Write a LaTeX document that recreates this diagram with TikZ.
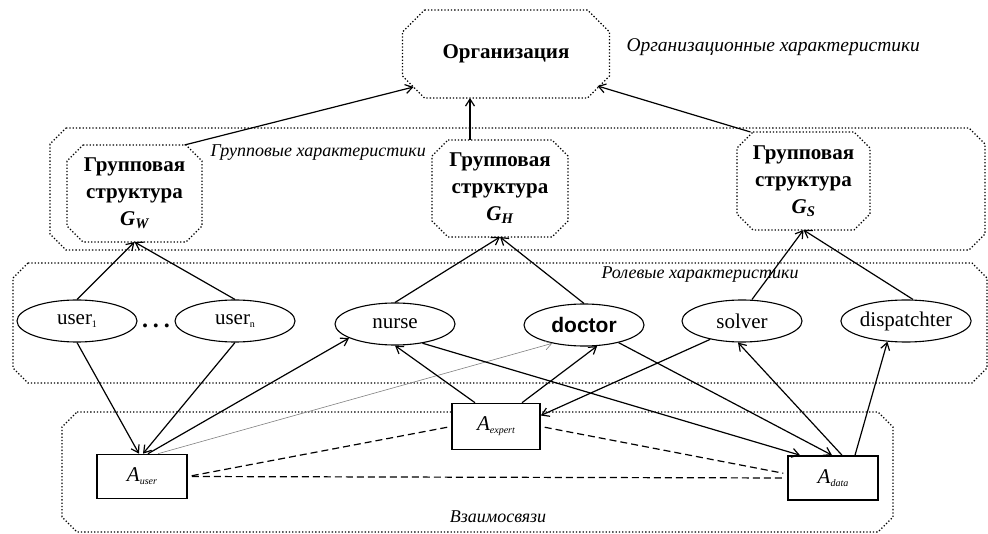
\documentclass[tikz,border=0pt]{standalone}
\usepackage{fontspec}
\setmainfont{Liberation Serif}
\newfontfamily\arialfont{Liberation Sans}
\usetikzlibrary{arrows.meta,positioning,shapes.geometric}

\newcommand{\lowsub}[1]{\raisebox{-3pt}{\fontsize{10}{10}\selectfont #1}}
% dotted outline with cut corners round a node
\newcommand{\chamfer}[2]{%
	\draw[frame] ([xshift=#2]#1.north west) -- ([xshift=-#2]#1.north east)
		-- ([yshift=-#2]#1.north east) -- ([yshift=#2]#1.south east)
		-- ([xshift=-#2]#1.south east) -- ([xshift=#2]#1.south west)
		-- ([yshift=#2]#1.south west) -- ([yshift=-#2]#1.north west) -- cycle;}

\begin{document}
\begin{tikzpicture}[
	x=1pt, y=-1pt,
	>={Straight Barb[length=7pt,width=9pt]},
	frame/.style = {dotted, line width=1.3pt},
	box/.style = {rectangle, inner sep=0pt, outer sep=0pt},
	group/.style = {box, align=center, font=\fontsize{21}{27}\selectfont\bfseries},
	role/.style = {draw, ellipse, line width=1.1pt, fill=white, minimum width=120pt, minimum height=42pt, inner sep=0pt, font=\fontsize{21}{24}\selectfont},
	agent/.style = {draw, rectangle, line width=1.6pt, fill=white, minimum width=90pt, minimum height=44pt, font=\fontsize{21}{24}\selectfont\itshape},
	note/.style = {font=\fontsize{18}{20}\selectfont\itshape},
	link/.style = {->, line width=1.2pt},
	weak/.style = {->, line width=0.6pt, gray},
	rel/.style = {line width=1.2pt, dash pattern=on 7pt off 4pt, shorten <=4pt, shorten >=4pt}
]
\useasboundingbox (0,0) rectangle (988,534);

% bands
\node[box, minimum width=935pt, minimum height=122pt] (groupband) at (517.5,189) {};
\node[box, minimum width=974pt, minimum height=120pt] (roleband) at (500,323) {};
\node[box, minimum width=831pt, minimum height=120pt] (linkband) at (477.5,472) {};
\chamfer{groupband}{16pt}
\chamfer{roleband}{15pt}
\chamfer{linkband}{15pt}
\node[note, anchor=west] (grouplabel) at (207,153) {Групповые характеристики};
\node[note] (rolelabel) at (700,275) {Ролевые характеристики};
\node[note] (linklabel) at (498,517) {Взаимосвязи};

% organisation
\node[box, minimum width=207pt, minimum height=88pt, font=\fontsize{21}{24}\selectfont\bfseries] (org) at (506,54) {Организация};
\chamfer{org}{22pt}
\node[note, anchor=west, font=\fontsize{19.5}{20}\selectfont\itshape] (orglabel) at (623,47) {Организационные характеристики};

% groups
\node[group, minimum width=135pt, minimum height=97pt] (gw) at (134.5,193.5) {Групповая\\структура\\\textit{G\textsubscript{W}}};
\node[group, minimum width=136pt, minimum height=97pt] (gh) at (500,188.5) {Групповая\\структура\\\textit{G\textsubscript{H}}};
\node[group, minimum width=133pt, minimum height=98pt] (gs) at (803.5,181) {Групповая\\структура\\\textit{G\textsubscript{S}}};
\chamfer{gw}{16pt}
\chamfer{gh}{16pt}
\chamfer{gs}{16pt}

% roles
\node[role] (user1) at (77,321) {user\lowsub{1}};
\node[font=\fontsize{24}{24}\selectfont\bfseries] (dots) at (156,326) {.\hspace{5pt}.\hspace{5pt}.};
\node[role] (usern) at (235,321) {user\lowsub{n}};
\node[role] (nurse) at (395,324) {nurse};
\node[role, font=\fontsize{21}{24}\selectfont\arialfont\bfseries] (doctor) at (584,325) {doctor};
\node[role] (solver) at (742,321) {solver};
\node[role, minimum width=122pt] (dispatchter) at (906,321) {dispatchter};

% agents
\node[agent] (auser) at (142,476.5) {A\lowsub{user}};
\node[agent, minimum width=88pt, minimum height=46pt] (aexpert) at (496,426.5) {A\lowsub{expert}};
\node[agent] (adata) at (833,478) {A\lowsub{data}};

% groups -> organisation
\draw[link] ([xshift=50pt]gw.north) -- ([xshift=11pt,yshift=11pt]org.south west);
\draw[link] ([xshift=-30pt]gh.north) -- ([xshift=-36pt]org.south);
\draw[link] ([xshift=-53pt]gs.north) -- ([xshift=-12pt,yshift=12pt]org.south east);

% roles -> groups
\draw[link] (user1.north) -- (gw.south);
\draw[link] (usern.north) -- (gw.south);
\draw[link] (nurse.north) -- (gh.south);
\draw[link] (doctor.north) -- (gh.south);
\draw[link] ([xshift=10pt]solver.north) -- (gs.south);
\draw[link] ([xshift=7pt]dispatchter.north) -- (gs.south);

% roles <-> agents
\draw[link] (user1.south) -- ([xshift=-3pt]auser.north);
\draw[link] (usern.south) -- ([xshift=1pt]auser.north);
\draw[link] ([xshift=6pt]auser.north) -- (nurse.197);
\draw[weak] ([xshift=16pt]auser.north) -- (doctor.210);
\draw[link] ([xshift=-21pt]aexpert.north) -- (nurse.south);
\draw[link] ([xshift=26pt]aexpert.north) -- (doctor.302);
\draw[link] (solver.210) -- ([yshift=11pt]aexpert.east);
\draw[link] (nurse.325) -- ([xshift=-33pt]adata.north);
\draw[link] (doctor.333) -- ([xshift=-1pt]adata.north);
\draw[link] ([xshift=9pt]adata.north) -- ([xshift=-4pt]solver.south);
\draw[link] ([xshift=22pt]adata.north) -- (dispatchter.228);

% agent relations
\draw[rel] (auser.east) -- (adata.west);
\draw[rel] (auser.east) -- (aexpert.west);
\draw[rel] (aexpert.east) -- ([yshift=4pt]adata.west);
\end{tikzpicture}
\end{document}
